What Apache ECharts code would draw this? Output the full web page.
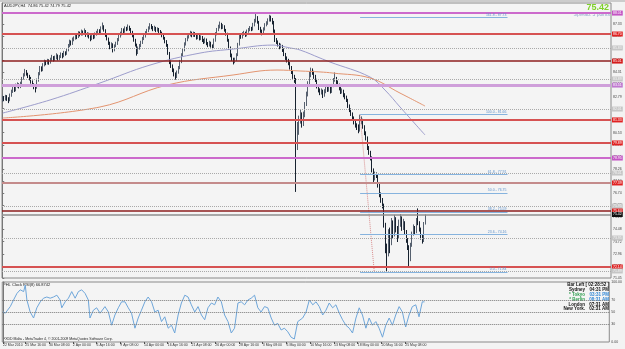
<!DOCTYPE html>
<html>
<head>
<meta charset="utf-8">
<title>AUDJPY,H4</title>
<script src="https://cdn.jsdelivr.net/npm/echarts@6/dist/echarts.min.js"></script>
<style>
  * { margin: 0; padding: 0; }
  body { background: #f3f3f3; }
  #main { width: 625px; height: 349px; }
</style>
</head>
<body>
<div id="main"></div>
<script>
// AUDJPY H4 bars, 22 Mar - 27 May 2010. FX bars open at the previous close.
var firstOpen = 82.60;
var closes = [
  82.70,82.62,82.78,82.66,82.58,82.85,83.10,83.33,83.20,83.45,
  83.52,83.40,83.58,83.90,84.12,84.33,84.20,84.05,83.95,83.70,
  83.55,83.40,83.33,83.80,84.20,84.58,84.45,84.75,84.95,84.88,
  85.02,84.92,85.08,85.25,85.10,85.20,85.35,85.18,85.26,85.40,
  85.30,85.52,85.45,85.70,85.95,86.20,86.10,86.35,86.42,86.58,
  86.50,86.76,86.68,86.83,86.75,86.90,86.62,86.70,86.55,86.40,
  86.60,86.50,86.68,86.76,86.90,86.82,87.05,87.20,86.95,86.64,
  86.40,86.15,85.89,86.05,85.70,85.95,86.10,86.33,86.55,86.70,
  86.95,86.85,87.05,86.98,87.14,87.00,86.83,86.60,86.33,86.05,
  85.51,85.80,85.95,86.14,86.40,86.55,86.76,86.90,87.05,87.20,
  87.12,86.98,87.08,86.92,87.00,86.85,86.76,86.60,86.45,86.25,
  86.01,85.50,84.95,84.70,84.45,84.20,84.01,84.30,84.58,84.95,
  85.39,85.70,86.05,86.33,86.50,86.62,86.76,86.60,86.72,86.64,
  86.45,86.58,86.40,86.51,86.30,86.20,86.35,86.10,86.01,86.15,
  85.95,85.89,86.30,86.70,86.95,87.15,87.33,87.10,87.20,86.95,
  86.70,86.33,85.85,85.39,85.15,84.95,85.10,85.39,86.05,86.64,
  86.50,86.70,86.76,86.62,86.85,86.95,87.05,86.98,87.26,87.50,
  87.76,87.45,87.08,86.90,86.76,87.00,87.26,87.35,87.55,87.70,
  87.60,87.45,86.90,86.33,86.20,86.05,85.89,85.95,85.70,85.45,
  85.20,85.05,84.89,84.60,84.33,84.05,83.83,79.80,80.70,81.30,
  81.64,81.05,81.60,82.30,82.90,83.60,84.14,84.40,84.33,84.05,
  83.83,83.45,83.20,83.05,83.15,82.89,83.10,83.33,83.20,83.35,
  83.10,83.45,83.80,83.95,83.70,83.51,83.30,83.08,83.15,82.89,
  82.75,82.58,82.20,81.95,81.70,81.45,81.20,81.01,80.85,80.70,
  81.20,81.33,80.90,80.51,80.20,79.58,79.30,78.95,78.20,77.70,
  77.95,77.89,77.26,76.64,76.30,76.01,74.76,73.20,72.90,74.30,
  73.60,74.90,74.20,75.10,74.50,74.00,74.80,75.20,74.60,74.90,
  74.30,73.80,73.40,72.60,73.50,74.20,74.60,74.30,75.00,74.90,
  74.50,74.00,73.80,74.86,75.42
];
var highs = [
  82.85,82.82,82.90,82.88,82.75,82.98,83.22,83.50,83.42,83.60,
  83.68,83.62,83.72,84.02,84.25,84.52,84.45,84.28,84.15,84.02,
  83.80,83.62,83.50,83.92,84.32,84.70,84.68,84.88,85.10,85.05,
  85.15,85.12,85.22,85.40,85.32,85.35,85.50,85.42,85.38,85.55,
  85.52,85.65,85.62,85.82,86.08,86.35,86.30,86.48,86.55,86.72,
  86.70,86.88,86.85,86.98,86.92,87.05,86.95,86.82,86.78,86.62,
  86.72,86.70,86.80,86.90,87.02,87.00,87.18,87.42,87.25,87.00,
  86.72,86.48,86.22,86.18,86.12,86.05,86.22,86.45,86.68,86.85,
  87.08,87.05,87.18,87.15,87.30,87.22,87.08,86.90,86.68,86.40,
  86.10,85.92,86.08,86.28,86.52,86.68,86.88,87.02,87.18,87.38,
  87.32,87.20,87.22,87.15,87.12,87.08,86.95,86.85,86.68,86.52,
  86.32,86.08,85.58,85.05,84.80,84.55,84.30,84.42,84.70,85.08,
  85.50,85.82,86.18,86.45,86.62,86.75,86.90,86.85,86.85,86.82,
  86.72,86.70,86.65,86.62,86.58,86.40,86.48,86.42,86.20,86.28,
  86.22,86.05,86.42,86.82,87.08,87.28,87.48,87.40,87.32,87.25,
  87.02,86.78,86.40,85.92,85.48,85.22,85.22,85.50,86.15,86.75,
  86.72,86.82,86.90,86.85,86.98,87.08,87.20,87.15,87.40,87.65,
  87.95,87.82,87.52,87.15,86.98,87.12,87.38,87.50,87.68,87.90,
  87.85,87.70,87.52,86.98,86.45,86.30,86.15,86.10,86.02,85.80,
  85.52,85.30,85.15,84.95,84.70,84.42,84.15,83.95,81.20,81.60,
  82.00,81.80,81.85,82.45,83.10,83.75,84.35,84.60,84.55,84.40,
  84.15,83.90,83.55,83.30,83.30,83.22,83.25,83.48,83.42,83.50,
  83.45,83.58,83.95,84.30,84.02,83.80,83.60,83.40,83.30,83.22,
  83.00,82.85,82.65,82.30,82.05,81.80,81.55,81.30,81.12,81.05,
  81.66,81.55,81.40,81.00,80.62,80.30,79.70,79.40,79.05,78.30,
  78.10,78.05,77.95,77.35,76.80,76.45,76.10,74.90,73.60,74.50,
  74.60,75.20,75.05,75.40,75.25,74.70,75.10,75.45,75.30,75.15,
  75.00,74.45,73.95,73.50,73.65,74.35,74.80,74.70,75.20,75.80,
  75.00,74.60,74.15,74.95,75.42
];
var lows = [
  82.45,82.50,82.55,82.52,82.38,82.50,82.78,83.02,83.08,83.12,
  83.35,83.30,83.32,83.50,83.85,84.05,84.10,83.95,83.80,83.60,
  83.42,83.25,83.05,83.28,83.72,84.12,84.35,84.38,84.68,84.75,
  84.80,84.78,84.85,85.00,84.98,85.02,85.12,85.05,85.08,85.20,
  85.18,85.25,85.35,85.40,85.62,85.88,85.98,86.02,86.25,86.35,
  86.38,86.45,86.55,86.60,86.62,86.68,86.52,86.50,86.42,86.25,
  86.32,86.38,86.42,86.60,86.70,86.72,86.75,86.98,86.85,86.52,
  86.30,86.02,85.75,85.80,85.55,85.62,85.88,86.02,86.25,86.48,
  86.62,86.75,86.78,86.88,86.92,86.90,86.72,86.50,86.22,85.92,
  85.35,85.45,85.72,85.88,86.08,86.32,86.48,86.68,86.82,86.98,
  87.00,86.88,86.90,86.82,86.85,86.75,86.65,86.50,86.35,86.12,
  85.90,85.40,84.82,84.58,84.32,84.05,83.85,83.95,84.22,84.50,
  84.88,85.30,85.62,85.98,86.25,86.42,86.55,86.50,86.52,86.52,
  86.35,86.38,86.30,86.32,86.20,86.08,86.12,86.00,85.88,85.92,
  85.85,85.75,85.82,86.22,86.62,86.88,87.05,87.00,87.02,86.85,
  86.60,86.22,85.72,85.25,85.02,84.80,84.88,85.02,85.32,85.98,
  86.40,86.42,86.60,86.52,86.55,86.78,86.88,86.88,86.92,87.18,
  87.42,87.35,86.95,86.78,86.62,86.70,86.92,87.18,87.28,87.48,
  87.48,87.30,86.78,86.20,86.08,85.92,85.75,85.78,85.58,85.32,
  85.08,84.92,84.75,84.48,84.20,83.90,83.65,76.83,79.45,80.40,
  81.10,80.85,80.95,81.50,82.20,82.80,83.50,84.00,84.15,83.90,
  83.70,83.30,83.05,82.88,82.92,82.70,82.78,83.00,83.08,83.10,
  82.98,83.02,83.38,83.72,83.58,83.40,83.18,82.95,82.98,82.75,
  82.62,82.45,82.08,81.82,81.58,81.30,81.05,80.85,80.70,80.50,
  80.60,81.05,80.78,80.38,80.05,79.45,79.15,78.80,78.05,77.45,
  77.55,77.70,77.10,76.50,76.15,75.80,74.60,73.00,71.84,72.80,
  73.00,73.50,73.90,74.05,74.30,73.70,73.90,74.65,74.40,74.45,
  74.15,73.65,73.20,72.14,72.50,73.40,74.10,74.15,74.25,74.75,
  74.35,73.85,73.60,73.70,74.79
];

// moving averages, read as [bar index, price]
var maFast = [[0,81.76],[31.8,82.58],[65.3,83.64],[98.9,84.76],[132.5,85.51],[154.7,85.76],
  [181.5,86.01],[193,85.83],[199.7,85.70],[213.1,85.20],[219.8,84.95],[246.7,84.01],
  [256.7,83.20],[266.8,82.14],[283.6,80.39]];
var maSlow = [[0,81.45],[65.3,82.14],[110.3,83.51],[154.7,84.14],[184.2,84.45],[199.7,84.39],
  [213.1,84.33],[221.8,84.26],[246.7,83.95],[266.8,83.01],[283.6,82.20]];

// RSI(8), [bar index, value]
var rsiPoints = [
  [0,50.5],[1.5,48],[4.9,59],[7.1,70],[9.4,81],[11.6,87],[13.9,84],[15.0,95],[16.1,70],[18.3,50],
  [20.6,40],[22.8,57],[25.1,67],[27.3,73],[29.5,75],[31.8,73],[34.0,75],[36.3,78],[38.5,70],[39.6,57],
  [41.9,67],[44.1,73],[46.3,84],[48.6,73],[50.8,84],[53.0,87],[55.3,81],[57.5,70],[58.6,40],[60.9,53],
  [63.1,57],[65.4,48],[68.7,59],[71.0,50],[73.2,28],[75.4,45],[77.7,57],[79.9,67],[82.2,67],[84.4,57],
  [86.6,48],[88.9,23],[91.1,40],[93.3,53],[95.6,67],[97.8,75],[100.1,67],[102.3,50],[104.5,53],[106.8,34],
  [109.0,42],[111.3,23],[113.5,28],[115.7,15],[118.0,45],[120.2,65],[122.5,78],[124.7,75],[126.9,62],[129.2,50],
  [131.4,59],[133.7,45],[135.9,37],[138.1,57],[140.4,65],[142.6,62],[144.8,75],[147.1,67],[149.3,45],[151.6,34],
  [153.8,15],[156.0,23],[158.3,65],[160.5,67],[162.8,62],[165.0,70],[167.2,73],[169.5,78],[171.7,57],[173.9,50],
  [176.2,59],[178.4,57],[180.7,40],[182.9,28],[185.1,31],[187.4,20],[189.6,23],[191.9,17],[194.1,8],[196.3,5],
  [198.6,34],[201.9,40],[204.2,50],[206.4,70],[208.7,62],[210.9,67],[213.1,59],[215.4,45],[217.6,53],[219.8,65],
  [222.1,57],[224.3,62],[226.6,48],[228.8,37],[231.0,28],[233.3,23],[235.5,15],[237.8,40],[240.0,57],[242.2,45],
  [244.5,23],[246.7,40],[248.9,28],[251.2,34],[253.4,23],[255.7,8],[257.9,28],[260.2,40],[262.4,28],[264.6,45],
  [266.9,59],[269.1,50],[271.3,25],[273.6,45],[275.8,59],[278.1,62],[280.3,42],[282.5,67],[284,66.87]
];

// horizontal levels drawn on the chart
var levelPrices = [88.01, 86.70, 85.83, 85.01, 83.89, 83.51, 82.01, 81.33, 79.89, 78.95,
  78.01, 77.39, 75.95, 75.64, 75.42, 73.95, 72.14, 71.89];
var levelKinds = ['purple','red','dot','darkred','dot','lilac','dot','red','red','purple',
  'dot','rose','dot','darkred','bid','dot','red','dot'];

// fibonacci retracement
var fibRatios = ['0.0','23.6','38.2','50.0','61.8','100.0','161.8'];
var fibPrices = [71.84, 74.16, 75.59, 76.75, 77.91, 81.66, 87.73];
var fibStartIdx = 240, fibLowIdx = 249.5, fibEndIdx = 339;

// axis labels
var yTicks = [71.45,72.21,72.96,73.72,74.48,75.23,75.99,76.74,77.50,78.26,79.01,
  79.77,80.53,81.28,82.04,82.79,83.55,84.31,85.06,85.82,86.57,87.33];
var rsiTicks = [0, 30, 50, 70, 100];
var dateLabelIdx = [0,15,31,47,63,79,95,111,127,143,159,175,191,207,223,239,255,271];
var dateLabels = ['22 Mar 2010','25 Mar 16:00','30 Mar 08:00','2 Apr 00:00','6 Apr 16:00',
  '9 Apr 08:00','14 Apr 00:00','16 Apr 16:00','21 Apr 08:00','26 Apr 00:00','28 Apr 16:00',
  '3 May 08:00','6 May 00:00','10 May 16:00','13 May 08:00','18 May 00:00','20 May 16:00','25 May 08:00'];
var slotCount = 409;

var clockRows = [
  ['Sydney', '04:31 PM', '#111', '#111'],
  ['* Tokyo', '03:31 PM', '#2e9e4f', '#2f86d6'],
  ['* Berlin', '08:31 AM', '#2e9e4f', '#2f86d6'],
  ['London', '07:31 AM', '#111', '#111'],
  ['New York.', '02:31 AM', '#111', '#111']
];

var levelStyles = {
  purple: { color: '#cc6acc', width: 2, type: 'solid', box: '#c455c4', text: '#fff' },
  lilac: { color: '#cf9fda', width: 3, type: 'solid', box: '#c07ad0', text: '#fff' },
  red: { color: '#d65252', width: 2, type: 'solid', box: '#e02222', text: '#fff' },
  darkred: { color: '#8e1f1f', width: 1.5, type: 'solid', box: '#d41c1c', text: '#fff' },
  rose: { color: '#c48b8b', width: 2, type: 'solid', box: '#e02222', text: '#fff' },
  dot: { color: '#a9a9a9', width: 1, type: 'dotted', box: '#c6c6c6', text: '#f6f6f6' },
  bid: { color: '#8f8f8f', width: 1.5, type: 'solid', box: '#111', text: '#fff' }
};

var candles = closes.map(function (c, i) {
  var o = i === 0 ? firstOpen : closes[i - 1];
  return [o, c, lows[i], highs[i]];
});
var cats = [];
for (var k = 0; k < slotCount; k++) cats.push(k);

var levelLines = levelPrices.map(function (p, i) {
  var s = levelStyles[levelKinds[i]];
  return {
    yAxis: p,
    lineStyle: { color: s.color, width: s.width, type: s.type },
    label: {
      show: true, position: 'end', distance: 1,
      formatter: p.toFixed(2), color: s.text, backgroundColor: s.box,
      fontSize: 3.5, padding: [1, 1, 0, 1], fontFamily: 'Liberation Sans'
    }
  };
});

var fibLine = { color: '#86b3de', width: 1, type: 'solid' };
var fibLines = fibPrices.map(function (p, i) {
  return [
    { coord: [fibStartIdx, p], lineStyle: fibLine },
    { coord: [fibEndIdx, p], lineStyle: fibLine,
      label: { show: true, position: 'insideEndTop', distance: 1,
        formatter: fibRatios[i] + ' - ' + p.toFixed(2),
        color: '#5f93cc', fontSize: 3.5, fontFamily: 'Liberation Sans' } }
  ];
});

var font = '"Liberation Sans", Arial, sans-serif';
var graphics = [
  { type: 'rect', shape: { x: 0, y: 0, width: 625, height: 2 }, style: { fill: '#cccccc' } },
  { type: 'text', x: 4, y: 6, style: { text: 'AUDJPY,H4  74.86 75.42 74.79 75.42', fill: '#222',
      font: '4px ' + font, align: 'left', verticalAlign: 'middle' } },
  { type: 'text', x: 609, y: 7.5, style: { text: '75.42', fill: '#7fd12a',
      font: 'bold 9px ' + font, align: 'right', verticalAlign: 'middle' } },
  { type: 'text', x: 610, y: 14.5, style: { text: 'Spread: 5 points', fill: '#8ea8cb',
      font: '5px ' + font, align: 'right', verticalAlign: 'middle' } },
  { type: 'text', x: 3, y: 285, style: { text: 'PHL Clock', fill: '#222',
      font: '4px ' + font, align: 'left', verticalAlign: 'middle' } },
  { type: 'text', x: 23, y: 285, style: { text: 'RSI(8) 66.8742', fill: '#222',
      font: '4px ' + font, align: 'left', verticalAlign: 'middle' } },
  { type: 'text', x: 3, y: 339.5, style: { text: 'FXDD Malta - MetaTrader 4, \u00a9 2001-2009 MetaQuotes Software Corp.',
      fill: '#222', font: '3.5px ' + font, align: 'left', verticalAlign: 'middle' } },
  { type: 'text', x: 609, y: 285, style: { text: 'Bar Left [ 02:28:52 ]', fill: '#111',
      font: 'bold 4.5px ' + font, align: 'right', verticalAlign: 'middle' } }
];
clockRows.forEach(function (r, i) {
  var y = 290 + i * 4.8;
  graphics.push({ type: 'text', x: 585, y: y, style: { text: r[0], fill: r[2],
    font: 'bold 4.5px ' + font, align: 'right', verticalAlign: 'middle' } });
  graphics.push({ type: 'text', x: 609, y: y, style: { text: r[1], fill: r[3],
    font: 'bold 4.5px ' + font, align: 'right', verticalAlign: 'middle' } });
});

var chart = echarts.init(document.getElementById('main'));
var option = {
  animation: false,
  backgroundColor: '#f3f3f3',
  textStyle: { fontFamily: 'Liberation Sans' },
  grid: [
    { left: 2, right: 14, top: 3, bottom: 71, show: true, borderColor: '#8a8a8a', backgroundColor: '#f4f4f4' },
    { left: 2, right: 14, top: 282, bottom: 7, show: true, borderColor: '#8a8a8a', backgroundColor: '#f4f4f4' }
  ],
  xAxis: [
    { type: 'category', gridIndex: 0, data: cats, show: false },
    { type: 'value', gridIndex: 0, min: -0.5, max: slotCount - 0.5, show: false },
    { type: 'value', gridIndex: 1, min: -0.5, max: slotCount - 0.5,
      splitLine: { show: false }, axisLine: { show: false },
      axisTick: { show: true, customValues: dateLabelIdx, length: 2, lineStyle: { color: '#555' } },
      axisLabel: { customValues: dateLabelIdx, align: 'left', margin: 1.5, fontSize: 3.5, color: '#333',
        formatter: function (v) { var j = dateLabelIdx.indexOf(Math.round(v)); return j < 0 ? '' : dateLabels[j]; } } }
  ],
  yAxis: [
    { type: 'value', gridIndex: 0, position: 'right', min: 71.45, max: 88.64,
      splitLine: { show: false }, axisLine: { show: true, lineStyle: { color: '#777' } },
      axisTick: { show: true, customValues: yTicks, length: 1.5, lineStyle: { color: '#777' } },
      axisLabel: { customValues: yTicks, margin: 2, fontSize: 3.5, color: '#444',
        formatter: function (v) { return v.toFixed(2); } } },
    { type: 'value', gridIndex: 1, position: 'right', min: 0, max: 100,
      splitLine: { show: false }, axisLine: { show: true, lineStyle: { color: '#777' } },
      axisTick: { show: true, customValues: rsiTicks, length: 1.5, lineStyle: { color: '#777' } },
      axisLabel: { customValues: rsiTicks, margin: 2, fontSize: 3.5, color: '#444',
        formatter: function (v) { return v === 100 ? '100.00' : (v === 0 ? '0.00' : String(v)); } } }
  ],
  series: [
    {
      name: 'AUDJPY', type: 'candlestick', xAxisIndex: 0, yAxisIndex: 0,
      data: candles, barWidth: 1,
      itemStyle: { color: '#c3cad4', color0: '#17222f', borderColor: '#56606e', borderColor0: '#17222f', borderWidth: 1 },
      markLine: { silent: true, symbol: ['none', 'none'], data: levelLines }
    },
    {
      name: 'MA fast', type: 'line', xAxisIndex: 1, yAxisIndex: 0, data: maFast,
      smooth: 0.4, showSymbol: false, lineStyle: { color: '#9d9dcc', width: 1 }
    },
    {
      name: 'MA slow', type: 'line', xAxisIndex: 1, yAxisIndex: 0, data: maSlow,
      smooth: 0.4, showSymbol: false, lineStyle: { color: '#e39470', width: 1 }
    },
    {
      name: 'Fibo', type: 'line', xAxisIndex: 1, yAxisIndex: 0,
      data: [[fibStartIdx, fibPrices[5]], [fibLowIdx, fibPrices[0]]],
      showSymbol: false, lineStyle: { color: '#d98c8c', width: 1, type: 'dotted' },
      markLine: { silent: true, symbol: ['none', 'none'], lineStyle: fibLine, data: fibLines }
    },
    {
      name: 'RSI', type: 'line', xAxisIndex: 2, yAxisIndex: 1, data: rsiPoints,
      showSymbol: false, lineStyle: { color: '#6ea6da', width: 1 },
      markLine: { silent: true, symbol: ['none', 'none'], label: { show: false },
        lineStyle: { color: '#777', width: 1, type: 'dotted' },
        data: [{ yAxis: 70 }, { yAxis: 50 }, { yAxis: 30 }] }
    }
  ],
  graphic: graphics
};
chart.setOption(option);
</script>
</body>
</html>
